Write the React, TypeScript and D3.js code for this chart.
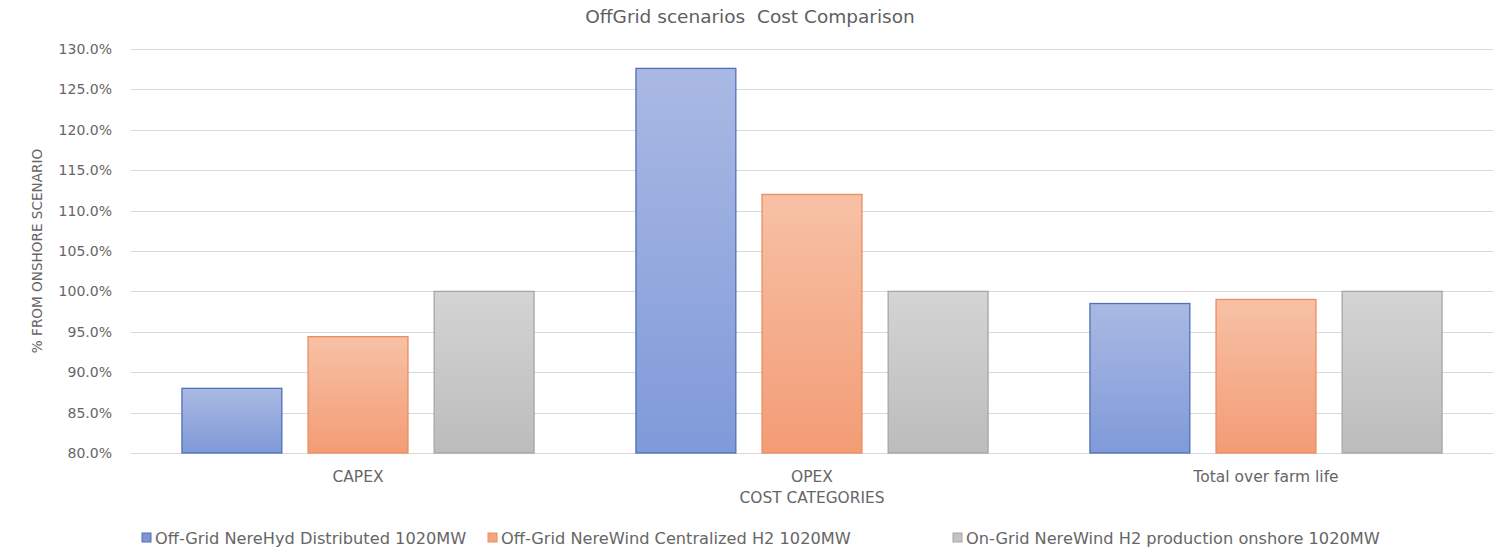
import React from "react";
import * as d3 from "d3";

const categories = ["CAPEX", "OPEX", "Total over farm life"];
const seriesNames = [
  "Off-Grid NereHyd Distributed 1020MW",
  "Off-Grid NereWind Centralized H2 1020MW",
  "On-Grid NereWind H2 production onshore 1020MW",
];
const offGridDistributed = [0.88, 1.276, 0.985];
const offGridCentralized = [0.944, 1.12, 0.99];
const onGridOnshore = [1.0, 1.0, 1.0];
const yTicks = [0.8, 0.85, 0.9, 0.95, 1.0, 1.05, 1.1, 1.15, 1.2, 1.25, 1.3];

const seriesValues = [offGridDistributed, offGridCentralized, onGridOnshore];
const seriesStyle = [
  { top: "#aab9e3", bottom: "#7f9ad9", stroke: "#4f71b5", swatch: "#7f96d6" },
  { top: "#f7c1a6", bottom: "#f39c75", stroke: "#ea8d60", swatch: "#f3a57f" },
  { top: "#d4d4d4", bottom: "#bcbcbc", stroke: "#a6a6a6", swatch: "#c3c3c3" },
];

const W = 1511;
const H = 555;
const left = 131;
const right = 1493;
const top = 49;
const bottom = 453;
const textColor = "#666666";
const font = "'DejaVu Sans', sans-serif";

export default function App() {
  const x0 = d3.scaleBand<string>().domain(categories).range([left, right]);
  const x1 = d3
    .scaleBand<number>()
    .domain([0, 1, 2])
    .range([0, x0.bandwidth()])
    .paddingInner(0.2)
    .paddingOuter(0.4);
  const y = d3.scaleLinear().domain([0.8, 1.3]).range([bottom, top]);
  const fmt = d3.format(".1%");

  const legendX = [142, 488, 953];

  return (
    <svg
      width={W}
      height={H}
      style={{ position: "absolute", left: 0, top: 0, background: "#fff" }}
      fontFamily={font}
    >
      <defs>
        {seriesStyle.map((s, i) => (
          <linearGradient key={i} id={`grad${i}`} x1="0" y1="0" x2="0" y2="1">
            <stop offset="0%" stopColor={s.top} />
            <stop offset="100%" stopColor={s.bottom} />
          </linearGradient>
        ))}
      </defs>

      <text x={750} y={23} textAnchor="middle" fontSize={18.5} fill="#5f5f5f">
        OffGrid scenarios{"\u00a0 "}Cost Comparison
      </text>

      {yTicks.map((t) => (
        <g key={t}>
          <line
            x1={left}
            x2={right}
            y1={Math.round(y(t)) + 0.5}
            y2={Math.round(y(t)) + 0.5}
            stroke="#d9d9d9"
            strokeWidth={1}
          />
          <text
            x={112}
            y={y(t)}
            dy="0.36em"
            textAnchor="end"
            fontSize={14}
            fill={textColor}
          >
            {fmt(t)}
          </text>
        </g>
      ))}

      <text
        transform={`translate(42,${(top + bottom) / 2}) rotate(-90)`}
        textAnchor="middle"
        fontSize={13.6}
        fill={textColor}
      >
        % FROM ONSHORE SCENARIO
      </text>

      {categories.map((c, ci) => (
        <g key={c} transform={`translate(${x0(c)},0)`}>
          {seriesValues.map((vals, si) => (
            <rect
              key={si}
              x={x1(si)! + 0.5}
              y={y(vals[ci])}
              width={x1.bandwidth() - 1}
              height={bottom - y(vals[ci])}
              fill={`url(#grad${si})`}
              stroke={seriesStyle[si].stroke}
              strokeWidth={1.3}
            />
          ))}
          <text
            x={x0.bandwidth() / 2}
            y={481.5}
            textAnchor="middle"
            fontSize={15.5}
            fill={textColor}
          >
            {c}
          </text>
        </g>
      ))}

      <text x={(left + right) / 2} y={502.5} textAnchor="middle" fontSize={15.4} fill={textColor}>
        COST CATEGORIES
      </text>

      {seriesNames.map((name, i) => (
        <g key={name} transform={`translate(${legendX[i]},538)`}>
          <rect
            x={0}
            y={-5}
            width={9}
            height={9}
            fill={seriesStyle[i].swatch}
            stroke={seriesStyle[i].stroke}
            strokeWidth={1}
          />
          <text x={13} y={6} fontSize={16.2} fill={textColor}>
            {name}
          </text>
        </g>
      ))}
    </svg>
  );
}
